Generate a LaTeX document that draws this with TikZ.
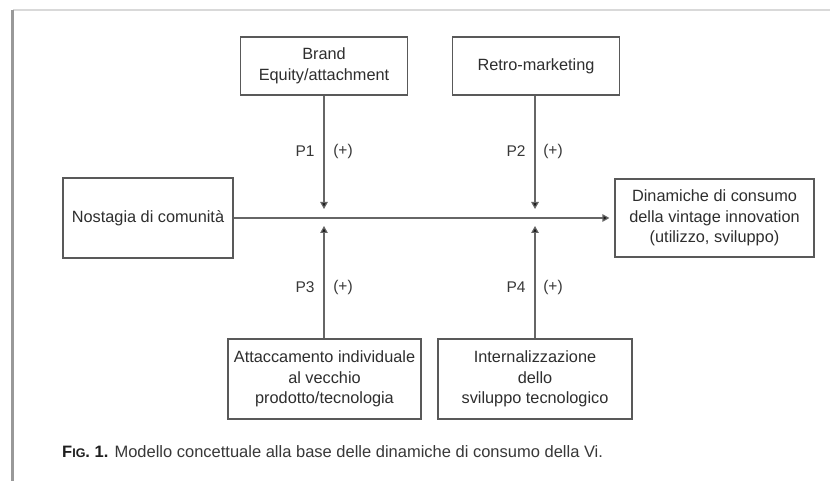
\documentclass[tikz,border=0pt]{standalone}
\usepackage{fontspec}
\setmainfont{Liberation Sans}
\usetikzlibrary{arrows.meta}

\tikzset{
  block/.style={draw=black!65, line width=1.2pt, fill=white, align=center,
    inner sep=0pt, text=black!82, font=\fontsize{16.3}{20.5}\selectfont},
  link/.style={draw=black!60, line width=1.2pt},
  tip/.style={-{Triangle[length=7pt,width=7.5pt,fill=black!90]}},
  plabel/.style={text=black!78, font=\fontsize{15.5}{18}\selectfont, inner sep=0pt}
}

\begin{document}
\begin{tikzpicture}[x=1pt,y=-1pt]
  % page area and frame
  \useasboundingbox (0,0) rectangle (830,481);
  \fill[white] (0,0) rectangle (830,481);
  \draw[black!15, line width=2pt] (13,10) -- (830,10);
  \draw[black!40, line width=2.4pt] (12.5,10) -- (12.5,481);

  % boxes
  \node[block, minimum width=167pt, minimum height=58pt] (brand) at (324,66)
    {Brand\\Equity/attachment};
  \node[block, minimum width=167pt, minimum height=58pt] (retro) at (536,66)
    {Retro-marketing};
  \node[block, minimum width=170pt, minimum height=80pt] (nost) at (148,218)
    {Nostagia di comunità};
  \node[block, minimum width=199pt, minimum height=78pt] (dyn) at (714.5,218)
    {Dinamiche di consumo\\della vintage innovation\\(utilizzo, sviluppo)};
  \node[block, minimum width=193pt, minimum height=80pt] (att) at (324.5,379)
    {Attaccamento individuale\\al vecchio\\prodotto/tecnologia};
  \node[block, minimum width=194pt, minimum height=80pt] (intn) at (535,379)
    {Internalizzazione\\dello\\sviluppo tecnologico};

  % arrow ends near the main path
  \coordinate (m1) at (324,209);
  \coordinate (m2) at (535,209);
  \coordinate (m3) at (324,226);
  \coordinate (m4) at (535,226);

  % main path
  \draw[link, tip, shorten >=5pt] (nost.east) -- (dyn.west);

  % moderating effects
  \draw[link, tip] (brand.south -| m1) -- (m1);
  \draw[link, tip] (retro.south -| m2) -- (m2);
  \draw[link, tip] (att.north -| m3) -- (m3);
  \draw[link, tip] (intn.north -| m4) -- (m4);

  % hypothesis labels
  \node[plabel] (p1) at (305,151) {P1};
  \node[plabel] (s1) at (343,151) {(+)};
  \node[plabel] (p2) at (516,151) {P2};
  \node[plabel] (s2) at (553,151) {(+)};
  \node[plabel] (p3) at (305,287) {P3};
  \node[plabel] (s3) at (343,287) {(+)};
  \node[plabel] (p4) at (516,287) {P4};
  \node[plabel] (s4) at (553,287) {(+)};

  % caption
  \node[anchor=west, inner sep=0pt, text=black!78, font=\fontsize{16.5}{19}\selectfont] (cap) at (62,452)
    {{\bfseries\color{black!88}F{\fontsize{12.5}{14}\selectfont IG}. 1.} Modello concettuale alla base delle dinamiche di consumo della Vi.};
\end{tikzpicture}
\end{document}
